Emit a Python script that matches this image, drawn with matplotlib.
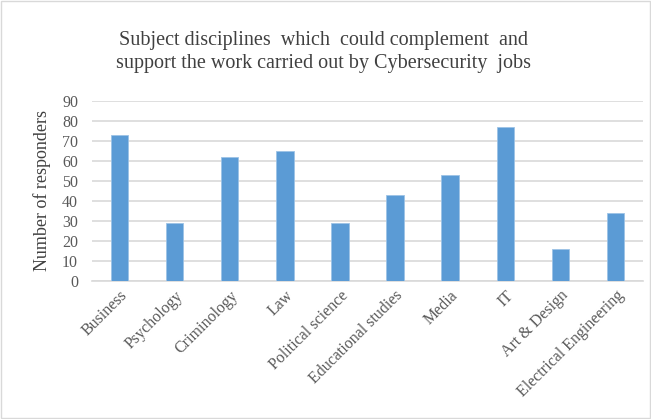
import matplotlib
matplotlib.use("Agg")
import matplotlib.pyplot as plt
from matplotlib.patches import Rectangle

categories = ["Business", "Psychology", "Criminology", "Law", "Political science",
              "Educational studies", "Media", "IT", "Art & Design", "Electrical Engineering"]
values = [73, 29, 62, 65, 29, 43, 53, 77, 16, 34]
yticks = list(range(0, 91, 10))

plt.rcParams['font.family'] = ['Liberation Serif', 'DejaVu Serif']

fig = plt.figure(figsize=(6.51, 4.19), dpi=100)
ax = fig.add_axes([92/651, 1 - 280.7/419, (643-92)/651, 180/419])

x = list(range(len(categories)))
ax.bar(x, values, width=0.315, color="#5B9BD5", edgecolor="#9DC3E6", linewidth=0.6, zorder=3)
ax.set_xlim(-0.5, len(categories) - 0.5)
ax.set_ylim(0, 90)
ax.set_yticks(yticks)
ax.set_yticklabels([str(t) for t in yticks])
ax.yaxis.grid(True, color="#D9D9D9", linewidth=1.2, zorder=0)
ax.set_axisbelow(True)
for s in ["top", "right", "left"]:
    ax.spines[s].set_visible(False)
ax.spines["bottom"].set_color("#D9D9D9")
ax.spines["bottom"].set_linewidth(1.2)
ax.tick_params(axis="both", length=0, colors="#595959", labelsize=11.5)
ax.tick_params(axis="y", pad=10)
ax.set_xticks(x)
ax.set_xticklabels(categories, rotation=45, ha="right", rotation_mode="anchor")
ax.tick_params(axis="x", pad=5)
ax.set_ylabel("Number of responders", fontsize=13, color="#404040", labelpad=8)

fig.text(0.497, 1 - 52/419, "Subject disciplines  which  could complement  and\nsupport the work carried out by Cybersecurity  jobs",
         ha="center", va="center", fontsize=14.5, color="#404040", linespacing=1.35)

fig.patches.append(Rectangle((0.002, 0.002), 0.996, 0.996, transform=fig.transFigure,
                             fill=False, edgecolor="#D9D9D9", linewidth=1))

fig.savefig("out.png", dpi=100)
